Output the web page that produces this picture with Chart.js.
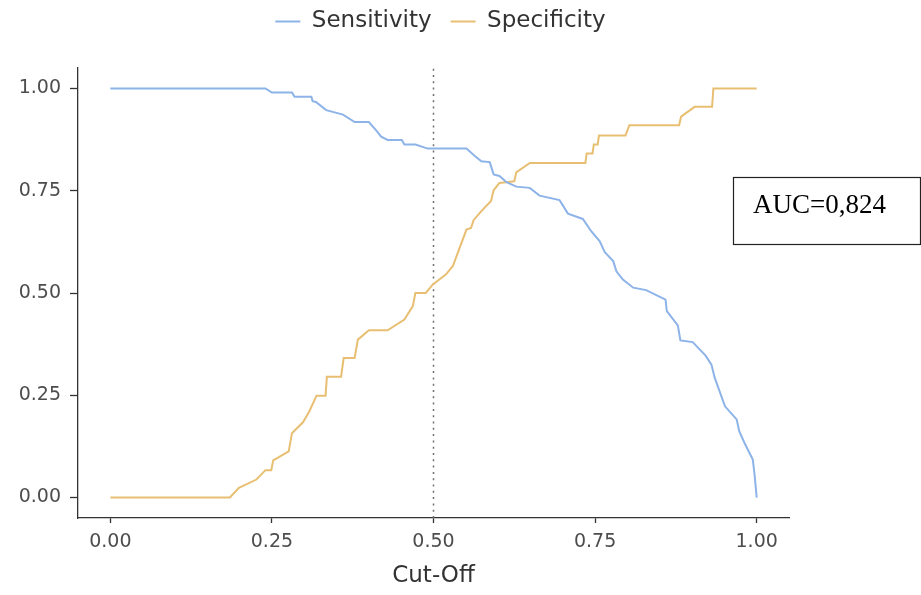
<!DOCTYPE html>
<html>
<head>
<meta charset="utf-8">
<script src="https://cdn.jsdelivr.net/npm/chart.js@4"></script>
<style>
  html, body { margin:0; padding:0; background:#fff; }
  #wrap { width:921px; height:595px; position:relative; }
</style>
</head>
<body>
<div id="wrap"><canvas id="chart"></canvas></div>
<script>
// cut-off values and curves
const sensX = [0, 0.24, 0.25, 0.281, 0.285, 0.311, 0.313, 0.318, 0.334, 0.36, 0.378, 0.40, 0.411, 0.419, 0.429, 0.451, 0.455, 0.472, 0.491, 0.551, 0.564, 0.574, 0.587, 0.593, 0.602, 0.613, 0.628, 0.649, 0.664, 0.695, 0.708, 0.731, 0.744, 0.757, 0.765, 0.778, 0.783, 0.793, 0.809, 0.829, 0.859, 0.861, 0.878, 0.882, 0.901, 0.921, 0.930, 0.935, 0.951, 0.969, 0.973, 0.981, 0.994, 0.997, 1.0];
const sensY = [1.0, 1.0, 0.99, 0.99, 0.98, 0.98, 0.969, 0.967, 0.947, 0.936, 0.918, 0.918, 0.898, 0.882, 0.874, 0.874, 0.863, 0.863, 0.853, 0.853, 0.835, 0.822, 0.820, 0.79, 0.786, 0.771, 0.760, 0.757, 0.738, 0.727, 0.694, 0.681, 0.651, 0.627, 0.600, 0.578, 0.553, 0.533, 0.513, 0.507, 0.484, 0.456, 0.421, 0.384, 0.380, 0.347, 0.325, 0.293, 0.223, 0.191, 0.162, 0.134, 0.093, 0.052, 0.0];

const specX = [0, 0.185, 0.199, 0.226, 0.240, 0.249, 0.252, 0.276, 0.281, 0.298, 0.308, 0.319, 0.333, 0.335, 0.357, 0.361, 0.378, 0.383, 0.400, 0.429, 0.455, 0.468, 0.472, 0.488, 0.499, 0.519, 0.530, 0.538, 0.551, 0.558, 0.562, 0.574, 0.589, 0.593, 0.602, 0.625, 0.628, 0.649, 0.735, 0.737, 0.746, 0.748, 0.754, 0.756, 0.797, 0.803, 0.880, 0.883, 0.904, 0.931, 0.933, 1.0];
const specY = [0, 0, 0.024, 0.044, 0.067, 0.067, 0.091, 0.113, 0.157, 0.184, 0.211, 0.249, 0.249, 0.295, 0.295, 0.341, 0.341, 0.386, 0.409, 0.409, 0.435, 0.468, 0.500, 0.500, 0.521, 0.545, 0.566, 0.600, 0.655, 0.659, 0.678, 0.700, 0.725, 0.751, 0.769, 0.773, 0.795, 0.818, 0.818, 0.841, 0.841, 0.863, 0.863, 0.885, 0.885, 0.910, 0.910, 0.931, 0.955, 0.955, 1.0, 1.0];

const cutOff = 0.5;
const tickVals = [0, 0.25, 0.5, 0.75, 1];
const axisMin = -0.05, axisMax = 1.05;
const aucText = 'AUC=0,824';

const pts = (xs, ys) => xs.map((x, i) => ({ x, y: ys[i] }));

const fixTicks = (scale) => { scale.ticks = tickVals.map(v => ({ value: v })); };

// legend block height so the plot starts where the reference does, legend row a bit higher
const legendHeight = {
  id: 'legendHeight',
  beforeInit(chart){
    const lg = chart.legend;
    const fit = lg.fit;
    lg.fit = function(){ fit.bind(lg)(); this.height = 68; };
    const draw = lg.draw;
    lg.draw = function(){
      const c = this.ctx;
      c.save(); c.translate(0, -9);
      draw.bind(lg)();
      c.restore();
    };
  }
};

// AUC text box on the right
const aucBox = {
  id: 'aucBox',
  afterDraw(chart){
    const ctx = chart.ctx;
    ctx.save();
    ctx.strokeStyle = '#222';
    ctx.lineWidth = 1.2;
    ctx.strokeRect(733.5, 177.5, 187, 67);
    ctx.fillStyle = '#000';
    ctx.font = '27px "Liberation Serif", "Times New Roman", serif';
    ctx.textBaseline = 'alphabetic';
    ctx.fillText(aucText, 753, 213);
    ctx.restore();
  }
};

new Chart(document.getElementById('chart'), {
  type: 'line',
  data: {
    datasets: [
      { label:'Sensitivity', data: pts(sensX, sensY), borderColor:'#8db3e8', backgroundColor:'#8db3e8', borderWidth:2, pointRadius:0, tension:0 },
      { label:'Specificity', data: pts(specX, specY), borderColor:'#e8bf72', backgroundColor:'#e8bf72', borderWidth:2, pointRadius:0, tension:0 },
      { label:'cut', data: pts([cutOff, cutOff], [axisMin, axisMax]), borderColor:'#6f6f6f', borderWidth:1.5, borderDash:[2, 4.3], pointRadius:0 }
    ]
  },
  options: {
    responsive: true,
    maintainAspectRatio: false,
    animation: false,
    events: [],
    layout: { padding: { left:0, right:40, top:0, bottom:0 } },
    plugins: {
      tooltip: { enabled:false },
      legend: {
        position: 'top',
        labels: {
          usePointStyle: true,
          pointStyle: 'line',
          pointStyleWidth: 25,
          boxWidth: 25,
          padding: 19,
          color: '#333',
          font: { family:'"DejaVu Sans", sans-serif', size:23 },
          filter: item => item.datasetIndex < 2
        }
      }
    },
    scales: {
      x: {
        type: 'linear', min: axisMin, max: axisMax,
        afterBuildTicks: fixTicks,
        afterFit: s => { s.height = 77; },
        border: { display:true, color:'#333', width:1.3 },
        grid: { drawOnChartArea:false, drawTicks:true, tickLength:5, tickColor:'#333', tickWidth:1.3 },
        ticks: { padding:8, color:'#4d4d4d', maxRotation:0, font:{ family:'"DejaVu Sans", sans-serif', size:19 }, callback: v => Number(v).toFixed(2) },
        title: { display:true, text:'Cut-Off', color:'#333', padding:{ top:4, bottom:5 }, font:{ family:'"DejaVu Sans", sans-serif', size:23 } }
      },
      y: {
        type: 'linear', min: axisMin, max: axisMax,
        afterBuildTicks: fixTicks,
        afterFit: s => { s.width = 78; },
        border: { display:true, color:'#333', width:1.3 },
        grid: { drawOnChartArea:false, drawTicks:true, tickLength:8, tickColor:'#333', tickWidth:1.3 },
        ticks: { padding:9, color:'#4d4d4d', font:{ family:'"DejaVu Sans", sans-serif', size:19 }, callback: v => Number(v).toFixed(2) }
      },
      yRight: {
        position: 'right', display: true,
        afterFit: s => { s.width = 92; },
        border: { display:false },
        grid: { display:false },
        ticks: { display:false }
      }
    }
  },
  plugins: [legendHeight, aucBox]
});
</script>
</body>
</html>
